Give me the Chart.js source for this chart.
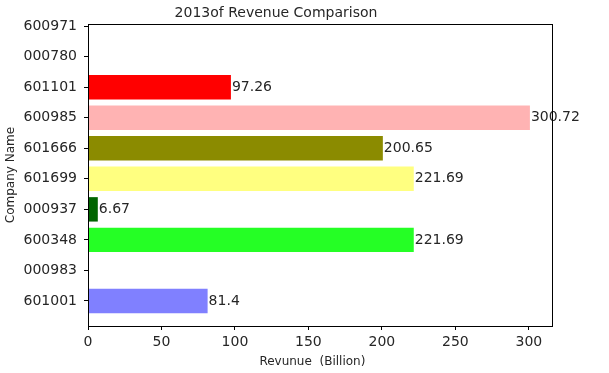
<!DOCTYPE html>
<html>
<head>
<meta charset="utf-8">
<script src="https://cdn.jsdelivr.net/npm/chart.js@4"></script>
<style>
  html, body { margin: 0; padding: 0; background: #fff; }
  #wrap { width: 609px; height: 373px; }
</style>
</head>
<body>
<div id="wrap"><canvas id="revChart" width="609" height="373"></canvas></div>
<script>
/* 数据：自下而上的公司代码与营收（十亿） */
const companies = ['601001', '000983', '600348', '000937', '601699', '601666', '600985', '601101', '000780', '600971'];
const revenues  = [81.4, 0, 221.69, 6.67, 221.69, 200.65, 300.72, 97.26, 0, 0];
const barColors = ['#8080ff', '#ffffff', '#25ff25', '#006400', '#ffff80', '#8b8b00', '#ffb3b3', '#ff0000', '#ffffff', '#ffffff'];
const xTicks    = [0, 50, 100, 150, 200, 250, 300];

const TEXT = '#262626';
Chart.defaults.font.family = "'DejaVu Sans', sans-serif";
Chart.defaults.font.size = 14;
Chart.defaults.color = TEXT;

/* 外框（四条边） */
const frame = {
  id: 'frame',
  afterDraw(chart) {
    const { ctx, chartArea: a } = chart;
    ctx.save();
    ctx.strokeStyle = '#000';
    ctx.lineWidth = 1;
    ctx.strokeRect(Math.round(a.left) + 0.5, Math.round(a.top) + 0.5,
                   Math.round(a.right - a.left), Math.round(a.bottom - a.top));
    ctx.restore();
  }
};

/* 柱末端数值标签 */
const valueLabels = {
  id: 'valueLabels',
  afterDatasetsDraw(chart) {
    const { ctx } = chart;
    const meta = chart.getDatasetMeta(0);
    ctx.save();
    ctx.font = "14px 'DejaVu Sans', sans-serif";
    ctx.fillStyle = TEXT;
    ctx.textAlign = 'left';
    ctx.textBaseline = 'middle';
    meta.data.forEach((bar, i) => {
      const v = revenues[i];
      if (!v) return;
      ctx.fillText(String(v), bar.x + 1, bar.y);
    });
    ctx.restore();
  }
};

new Chart(document.getElementById('revChart'), {
  type: 'bar',
  data: {
    datasets: [{
      data: revenues.map((v, i) => ({ x: v, y: i })),
      backgroundColor: barColors,
      borderWidth: 0,
      categoryPercentage: 1,
      barPercentage: 0.8
    }]
  },
  options: {
    indexAxis: 'y',
    responsive: false,
    animation: false,
    layout: { padding: { left: 0, right: 57, top: 0, bottom: 0 } },
    plugins: {
      legend: { display: false },
      tooltip: { enabled: false },
      title: {
        display: true,
        text: '2013of Revenue Comparison',
        color: TEXT,
        font: { size: 14, weight: 'normal' },
        padding: { top: 5, bottom: 2.2 }
      }
    },
    scales: {
      x: {
        type: 'linear',
        min: 0,
        max: 315.76,
        afterBuildTicks: s => { s.ticks = xTicks.map(v => ({ value: v })); },
        afterFit: s => { s.height = 47; },
        border: { display: false },
        grid: { drawOnChartArea: false, drawTicks: true, tickLength: 4, color: '#000' },
        ticks: { padding: 4, color: TEXT },
        title: {
          display: true,
          text: 'Revunue  (Billion)    ',
          color: TEXT,
          font: { size: 12 },
          padding: { top: 0, bottom: 4 }
        }
      },
      y: {
        type: 'linear',
        min: -0.82,
        max: 9.07,
        offset: false,
        afterBuildTicks: s => { s.ticks = companies.map((_, i) => ({ value: i })); },
        afterFit: s => { s.width = 88; },
        border: { display: false },
        grid: { offset: false, drawOnChartArea: false, drawTicks: true, tickLength: 4, color: '#000' },
        ticks: { padding: 7, color: TEXT, autoSkip: false, callback: v => companies[v] },
        title: {
          display: true,
          text: 'Company Name',
          color: TEXT,
          font: { size: 12 },
          padding: { top: 4, bottom: 0 }
        }
      }
    }
  },
  plugins: [frame, valueLabels]
});
</script>
</body>
</html>
